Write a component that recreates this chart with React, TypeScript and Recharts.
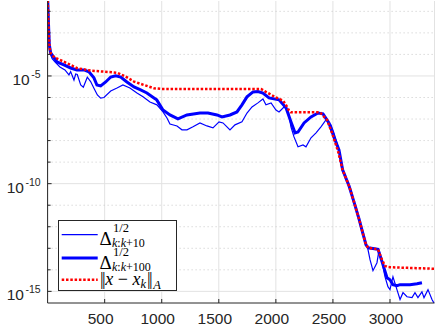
import { LineChart, Line, XAxis, YAxis, CartesianGrid, ReferenceLine } from 'recharts';

/* ── Palette / fonts ─────────────────────────────────────────────────────── */

const AXIS  = '#262626';
const GRID  = '#e2e2e2';
const MINOR = '#c8c8c8';
const BLUE  = '#0000ff';
const RED   = '#ff0000';
const SANS  = "'Liberation Sans', Arial, Helvetica, sans-serif";
const SERIF = "'Liberation Serif', 'Times New Roman', serif";

const W = 436;
const H = 325;

/* ── Axes ────────────────────────────────────────────────────────────────── */

const X_TICKS = [500, 1000, 1500, 2000, 2500, 3000];
const X_MAX = 3390;
const DECADES = [-15, -14, -13, -12, -11, -10, -9, -8, -7, -6, -5, -4, -3, -2];
const Y_LOG_MIN = -15.54;
const Y_LOG_MAX = -1.52;

/* ── Data (iteration k, log10 of value) ──────────────────────────────────── */

// ||x - x_k||_A
const ERR_K = [0, 8, 15, 22, 30, 64, 143, 260, 377, 494, 611, 684, 757, 845, 932, 990,
  1870, 1913, 2001, 2063, 2089, 2115, 2132, 2387, 2448, 2492, 2545, 2585, 2643, 2687,
  2731, 2761, 2790, 2810, 2895, 2930, 2956, 2982, 3000, 3394];
const ERR_LOG = [-1.3, -2.6, -3.5, -3.85, -3.97, -4.15, -4.34, -4.64, -4.75, -4.8, -4.85, -5.03, -5.26, -5.42, -5.57, -5.6,
  -5.6, -5.74, -6.0, -6.15, -6.35, -6.6, -6.69, -6.69, -7.04, -7.64, -8.5, -9.36, -10.13, -10.89,
  -11.68, -12.28, -12.84, -12.98, -13.05, -13.53, -13.82, -13.87, -13.88, -13.95];

// Delta^{1/2}_{k:k+100}
const D100_K = [0, 8, 15, 27, 82, 143, 202, 257, 319, 362, 406, 432, 465, 509, 553, 596, 641, 695,
  757, 815, 870, 932, 956, 1011, 1072, 1142, 1221, 1335, 1405, 1484, 1528, 1598, 1659, 1703,
  1747, 1800, 1843, 1887, 1940, 2028, 2089, 2132, 2168, 2194, 2247, 2308, 2369, 2413, 2465,
  2509, 2553, 2585, 2643, 2687, 2731, 2761, 2790, 2810, 2895, 2930, 2974, 3000, 3026, 3061,
  3088, 3175, 3237, 3280];
const D100_LOG = [-1.3, -2.6, -3.55, -3.93, -4.35, -4.49, -4.63, -4.72, -4.72, -4.81, -5.09, -5.42, -5.46, -5.28, -5.05, -4.99, -5.05, -5.28,
  -5.51, -5.65, -5.79, -6.02, -6.11, -6.58, -6.81, -6.99, -6.81, -6.72, -6.72, -6.81, -6.9, -6.81, -6.67, -6.34,
  -5.97, -5.74, -5.72, -5.79, -6.02, -6.11, -6.48, -7.13, -7.64, -7.6, -7.18, -6.9, -6.72, -6.76, -7.18,
  -7.83, -8.43, -9.36, -10.13, -10.89, -11.68, -12.28, -12.84, -12.98, -13.05, -13.62, -14.37, -14.46, -14.69, -14.74,
  -14.69, -14.69, -14.65, -14.6];

// Delta^{1/2}_{k:k+10}
const D10_K = [0, 8, 15, 21, 40, 64, 108, 152, 187, 202, 231, 246, 260, 290, 313, 333, 348, 377,
  406, 436, 465, 494, 553, 608, 660, 721, 783, 836, 897, 958, 1011, 1046, 1072, 1134, 1177,
  1221, 1274, 1335, 1396, 1449, 1502, 1537, 1598, 1642, 1703, 1747, 1791, 1843, 1887, 1913,
  1958, 2001, 2028, 2071, 2107, 2132, 2159, 2194, 2238, 2264, 2308, 2352, 2395, 2439, 2483,
  2509, 2553, 2585, 2643, 2687, 2731, 2761, 2790, 2805, 2825, 2851, 2886, 2904, 2930, 2956,
  2982, 3000, 3026, 3061, 3088, 3114, 3149, 3193, 3219, 3245, 3280, 3298, 3333, 3368, 3394];
const D10_LOG = [-1.3, -2.7, -3.65, -3.95, -4.2, -4.35, -4.58, -4.72, -4.95, -4.8, -5.19, -4.91, -4.93, -5.42, -5.52, -5.26, -5.06, -5.26,
  -5.57, -5.88, -6.03, -6.0, -5.7, -5.56, -5.42, -5.56, -5.79, -5.97, -6.21, -6.34, -6.67, -6.95, -7.23, -7.32, -7.5,
  -7.5, -7.36, -7.18, -7.32, -7.41, -7.13, -7.18, -7.5, -7.27, -7.13, -6.72, -6.44, -6.25, -6.07, -6.34,
  -6.25, -6.58, -6.67, -6.44, -6.58, -7.36, -7.83, -8.29, -8.2, -8.29, -7.87, -7.64, -7.36, -7.04, -7.27,
  -7.64, -8.43, -9.4, -10.15, -10.9, -11.7, -12.3, -12.85, -13.0, -13.53, -14.04, -13.67, -13.07, -13.62, -14.32,
  -14.78, -14.92, -14.32, -14.92, -15.38, -15.06, -15.25, -15.29, -15.06, -15.29, -15.02, -15.29, -14.92, -15.38, -15.62];

const toRows = (ks: number[], logs: number[]) => ks.map((x, i) => ({ x, v: 10 ** logs[i] }));

const errData  = toRows(ERR_K, ERR_LOG);
const d100Data = toRows(D100_K, D100_LOG);
const d10Data  = toRows(D10_K, D10_LOG);

const yTicks = DECADES.map(d => 10 ** d);
const isMajor = (v: number) => Math.round(Math.log10(v)) % 5 === 0;

/* ── Tick renderers (MATLAB style: ticks point inward) ───────────────────── */

function BottomTick({ x, y, payload }: any) {
  return (
    <g>
      <line x1={x} x2={x} y1={y} y2={y - 4} stroke={AXIS} />
      <text x={x - 4} y={y + 20.5} textAnchor="middle" fontSize={15.5} fontFamily={SANS} fill={AXIS}>
        {payload.value}
      </text>
    </g>
  );
}

function TopTick({ x, y }: any) {
  return <line x1={x} x2={x} y1={y} y2={y + 4} stroke={AXIS} />;
}

function LeftTick({ x, y, payload }: any) {
  const major = isMajor(payload.value);
  const exp = Math.round(Math.log10(payload.value));
  return (
    <g>
      <line x1={x} x2={x + (major ? 4 : 3)} y1={y} y2={y} stroke={AXIS} />
      {major && (
        <text x={x - 7} y={y + 9} textAnchor="end" fontFamily={SANS} fill={AXIS} fontSize={15.5}>
          <tspan>10</tspan>
          <tspan dx={1.5} dy={-7} fontSize={10.5}>{`-${-exp}`}</tspan>
        </text>
      )}
    </g>
  );
}

function RightTick({ x, y, payload }: any) {
  const major = isMajor(payload.value);
  return <line x1={x} x2={x - (major ? 4 : 3)} y1={y} y2={y} stroke={AXIS} />;
}

/* ── Legend (LaTeX-ish labels, one text element per entry) ──────────────── */

function DeltaLabel({ y, sub }: { y: number; sub: string }) {
  const it = { fontStyle: 'italic' as const };
  return (
    <text x={41.5} y={y} fontSize={19}>
      Δ
      <tspan x={55} dy={-12.8} fontSize={12.5}>1/2</tspan>
      <tspan x={54} dy={15} fontSize={12}>
        <tspan {...it}>k</tspan>:<tspan {...it}>k</tspan>{sub}
      </tspan>
    </text>
  );
}

function LegendBox() {
  const it = { fontStyle: 'italic' as const };
  return (
    <svg width={120} height={72} style={{ position: 'absolute', left: 58, top: 220 }}>
      <rect x={0.5} y={0.5} width={118} height={70} fill="#fff" stroke={AXIS} />
      <line x1={3.7} x2={39.7} y1={14.7} y2={14.7} stroke={BLUE} strokeWidth={1.2} />
      <line x1={3.7} x2={39.7} y1={38} y2={38} stroke={BLUE} strokeWidth={3} />
      <line x1={3.7} x2={39.7} y1={59.7} y2={59.7} stroke={RED} strokeWidth={2.5} strokeDasharray="2.5 1.8" />
      <g fontFamily={SERIF} fill="#000">
        <DeltaLabel y={24.8} sub="+10" />
        <DeltaLabel y={48.6} sub="+100" />
        <text x={42} y={65} fontSize={18}>
          <tspan letterSpacing={-1.5}>||</tspan>
          <tspan dx={1} {...it}>x</tspan> − <tspan {...it}>x</tspan>
          <tspan fontSize={12.5} dy={3} {...it}>k</tspan>
          <tspan dy={-3} dx={1} letterSpacing={-1.5}>||</tspan>
          <tspan fontSize={12.5} dy={3.5} dx={2} {...it}>A</tspan>
        </text>
      </g>
    </svg>
  );
}

/* ── Chart ───────────────────────────────────────────────────────────────── */

export default function App() {
  const yDomain = [10 ** Y_LOG_MIN, 10 ** Y_LOG_MAX];
  return (
    <div style={{ position: 'fixed', left: 0, top: 0, width: W, height: H, background: '#fff' }}>
      <LineChart width={W} height={H} margin={{ top: 1, right: 1.5, bottom: 0, left: 0 }}>
        <CartesianGrid horizontal={false} stroke={GRID} />
        {DECADES.map(d => (
          <ReferenceLine
            key={d}
            y={10 ** d}
            stroke={d % 5 === 0 ? GRID : MINOR}
            strokeDasharray={d % 5 === 0 ? undefined : '1 3'}
          />
        ))}
        <XAxis
          dataKey="x" type="number" domain={[0, X_MAX]} ticks={X_TICKS} allowDataOverflow
          height={22} interval={0} tickSize={0} tickMargin={0} tickLine={false}
          axisLine={{ stroke: AXIS }} tick={<BottomTick />}
        />
        <XAxis
          xAxisId="top" orientation="top" dataKey="x" type="number" domain={[0, X_MAX]} ticks={X_TICKS}
          allowDataOverflow height={0} interval={0} tickSize={0} tickMargin={0} tickLine={false}
          axisLine={{ stroke: AXIS }} tick={<TopTick />}
        />
        <YAxis
          type="number" scale="log" domain={yDomain} ticks={yTicks} allowDataOverflow
          width={47.6} interval={0} tickSize={0} tickMargin={0} tickLine={false}
          axisLine={{ stroke: AXIS }} tick={<LeftTick />}
        />
        <YAxis
          yAxisId="right" orientation="right" type="number" scale="log" domain={yDomain} ticks={yTicks}
          allowDataOverflow width={0} interval={0} tickSize={0} tickMargin={0} tickLine={false}
          axisLine={{ stroke: AXIS }} tick={<RightTick />}
        />
        <Line data={d10Data} dataKey="v" type="linear" stroke={BLUE} strokeWidth={1.2}
          dot={false} activeDot={false} isAnimationActive={false} />
        <Line data={d100Data} dataKey="v" type="linear" stroke={BLUE} strokeWidth={3}
          dot={false} activeDot={false} isAnimationActive={false} />
        <Line data={errData} dataKey="v" type="linear" stroke={RED} strokeWidth={2.5}
          strokeDasharray="2.5 1.8" dot={false} activeDot={false} isAnimationActive={false} />
      </LineChart>
      <LegendBox />
    </div>
  );
}
